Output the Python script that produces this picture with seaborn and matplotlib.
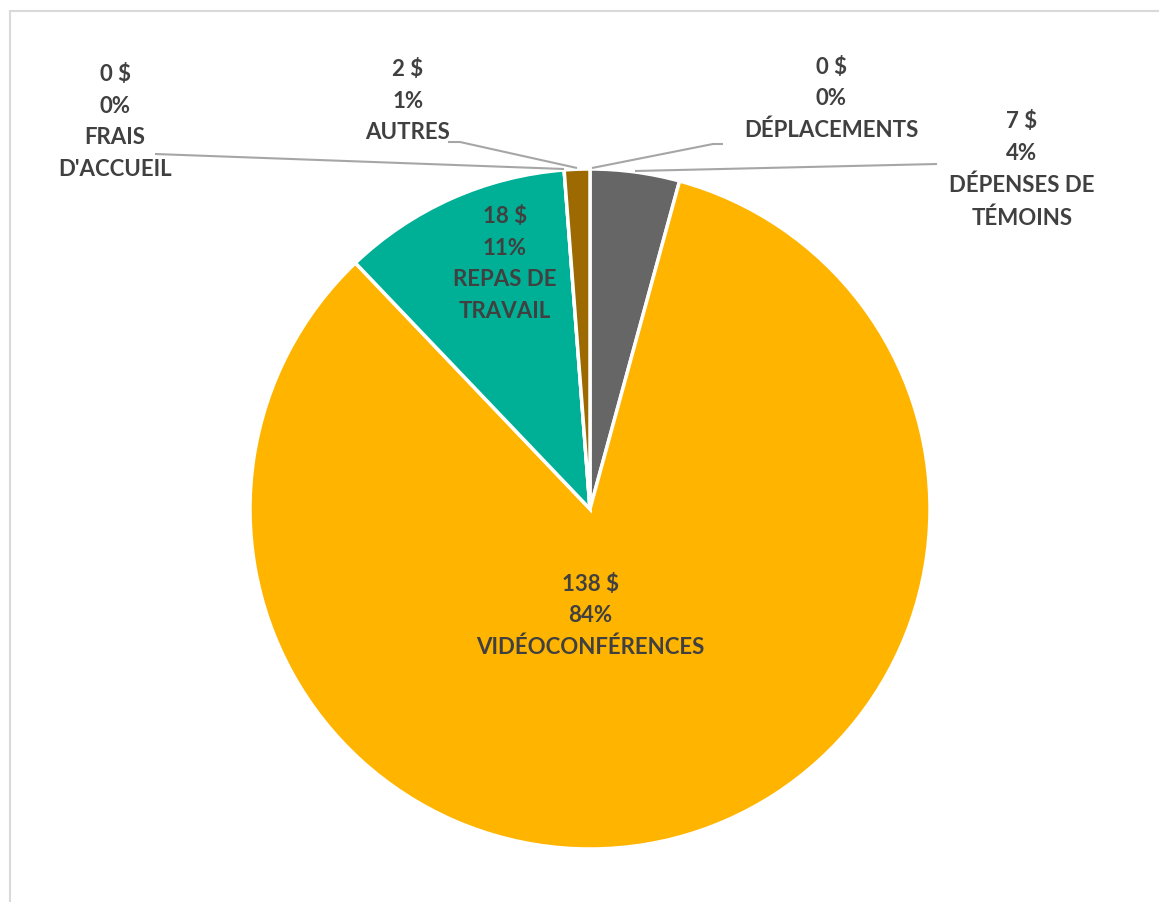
import matplotlib
matplotlib.use("Agg")
import matplotlib.pyplot as plt
import seaborn as sns
from matplotlib.patches import Rectangle

# Data (clockwise from 12 o'clock)
categories = ["DÉPLACEMENTS", "DÉPENSES DE\nTÉMOINS", "VIDÉOCONFÉRENCES",
              "REPAS DE\nTRAVAIL", "FRAIS\nD'ACCUEIL", "AUTRES"]
amounts = [0, 7, 138, 18, 0, 2]
colors = ["#7F7F7F", "#666666", "#FFB400", "#00B096", "#4472C4", "#9C6A00"]

sns.set_theme(style="white")
plt.rcParams['font.family'] = ['Lato', 'DejaVu Sans']

W, H = 1159, 903
fig = plt.figure(figsize=(W / 100, H / 100), dpi=100)
ax = fig.add_axes([0, 0, 1, 1])

# pie centre / radius in pixel space (y measured from bottom)
cx, cy, r = 590, H - 510, 340
wedges, _ = ax.pie(amounts, colors=colors, startangle=90, counterclock=False,
                   center=(cx, cy), radius=r,
                   wedgeprops=dict(edgecolor="white", linewidth=2.5))
ax.set_xlim(0, W)
ax.set_ylim(0, H)
ax.set_aspect("equal")
ax.axis("off")

total = sum(amounts)
labels = ["{} $\n{}%\n{}".format(a, round(a / total * 100), c)
          for a, c in zip(amounts, categories)]

# label centres (pixels from top-left)
label_pos = [(831, 99), (1022, 170), (590, 616), (505, 264), (115, 122), (408, 101)]
txt_color = "#404040"
for lab, (x, y) in zip(labels, label_pos):
    ax.text(x, H - y, lab, ha="center", va="center", multialignment="center",
            fontsize=16, fontweight="bold", color=txt_color, linespacing=1.62)

# leader lines for the outside labels
line_color = "#A6A6A6"
leaders = [
    [(592, 169), (713, 145), (723, 145)],      # déplacements
    [(635, 172), (937, 165)],                  # dépenses de témoins
    [(155, 155), (564, 170)],                  # frais d'accueil
    [(448, 143), (460, 143), (577, 169)],      # autres
]
for pts in leaders:
    xs = [p[0] for p in pts]
    ys = [H - p[1] for p in pts]
    ax.plot(xs, ys, color=line_color, linewidth=1.5, solid_capstyle="butt")

# chart area border (cropped on the right and bottom)
fig.patches.append(Rectangle((10 / W, -0.05), 1.2, 1 - 12 / H + 0.05,
                             transform=fig.transFigure, fill=False,
                             edgecolor="#D9D9D9", linewidth=1.5))

fig.savefig("out.png", dpi=100, facecolor="white")
